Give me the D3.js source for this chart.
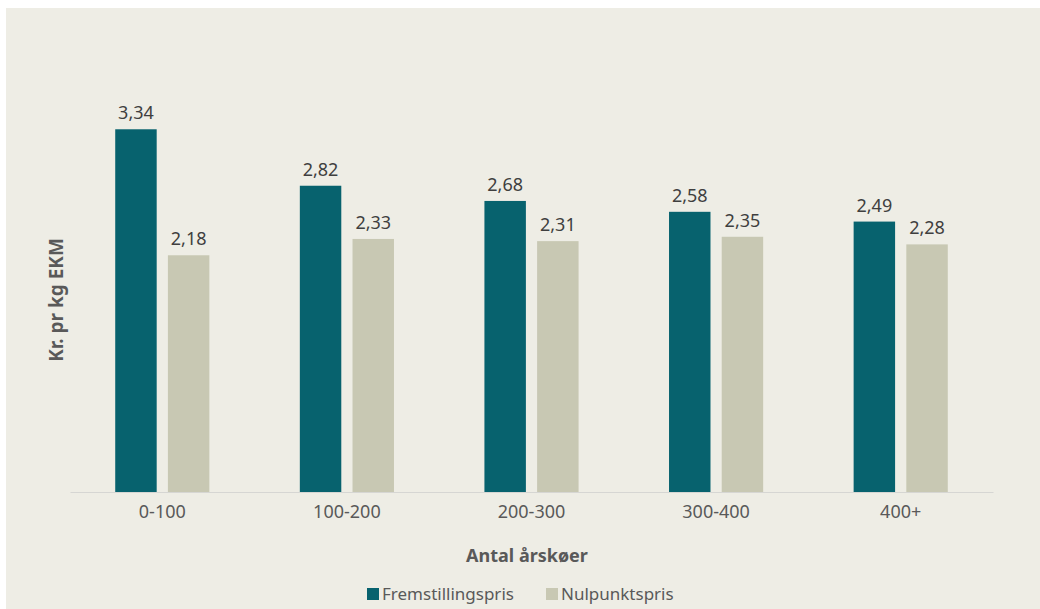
<!DOCTYPE html>
<html>
<head>
<meta charset="utf-8">
<script src="https://cdn.jsdelivr.net/npm/d3@7"></script>
<style>
  html, body { margin: 0; padding: 0; background: #ffffff; }
  svg { display: block; font-family: "Noto Sans", sans-serif; }
</style>
</head>
<body>
<svg id="chart" width="1040" height="609"></svg>
<script>
// Herd-size groups and the two price series (kr. per kg EKM)
const categories = ["0-100", "100-200", "200-300", "300-400", "400+"];
const seriesNames = ["Fremstillingspris", "Nulpunktspris"];
const fremstillingspris = [3.34, 2.82, 2.68, 2.58, 2.49];
const nulpunktspris = [2.18, 2.33, 2.31, 2.35, 2.28];
const seriesColors = ["#07626e", "#c8c8b3"];
const xTitle = "Antal årskøer";
const yTitle = "Kr. pr kg EKM";

const seriesValues = [fremstillingspris, nulpunktspris];
const rows = categories.map((c, i) => ({
  category: c,
  values: seriesNames.map((s, j) => ({ series: s, value: seriesValues[j][i], idx: j }))
}));

const svg = d3.select("#chart");
const W = 1040, H = 609;

// panel background
svg.append("rect").attr("x", 6).attr("y", 8).attr("width", W - 6).attr("height", H - 8)
  .attr("fill", "#eeede5");

const plot = { left: 70, right: 993, top: 57.6, bottom: 492 };

const x0 = d3.scaleBand().domain(categories).range([plot.left, plot.right]).padding(0);
const bw = x0.bandwidth();
const x1 = d3.scaleBand().domain(seriesNames)
  .range([bw * 0.245, bw * 0.755]).paddingInner(0.213).paddingOuter(0);
const y = d3.scaleLinear().domain([0, 4]).range([plot.bottom, plot.top]);

const fmt = v => d3.format(".2f")(v).replace(".", ",");

const groups = svg.append("g").selectAll("g").data(rows).join("g")
  .attr("transform", d => `translate(${x0(d.category)},0)`);

groups.selectAll("rect").data(d => d.values).join("rect")
  .attr("x", d => x1(d.series))
  .attr("y", d => y(d.value))
  .attr("width", x1.bandwidth())
  .attr("height", d => y(0) - y(d.value))
  .attr("fill", d => seriesColors[d.idx]);

groups.selectAll("text").data(d => d.values).join("text")
  .attr("x", d => x1(d.series) + x1.bandwidth() / 2)
  .attr("y", d => y(d.value) - 10)
  .attr("text-anchor", "middle")
  .attr("font-size", 18)
  .attr("fill", "#3f3f3f")
  .text(d => fmt(d.value));

// category axis
const xAxis = svg.append("g")
  .attr("transform", `translate(0,${plot.bottom})`)
  .call(d3.axisBottom(x0).tickSize(0).tickPadding(13));
xAxis.select(".domain").attr("stroke", "#d6d6d3").attr("stroke-width", 1.2);
xAxis.selectAll("text").attr("font-size", 18).attr("fill", "#595959")
  .attr("font-family", "Noto Sans, sans-serif");

// axis titles
svg.append("text")
  .attr("x", 527).attr("y", 562)
  .attr("text-anchor", "middle")
  .attr("font-size", 18).attr("font-weight", "bold").attr("fill", "#595959")
  .text(xTitle);

svg.append("text")
  .attr("transform", "translate(63,300) rotate(-90)")
  .attr("text-anchor", "middle")
  .attr("font-size", 19).attr("font-weight", "bold").attr("fill", "#595959")
  .text(yTitle);

// legend
const legendX = [367, 546];
const legend = svg.append("g").selectAll("g").data(seriesNames).join("g")
  .attr("transform", (d, i) => `translate(${legendX[i]},588)`);
legend.append("rect").attr("width", 12).attr("height", 12)
  .attr("fill", (d, i) => seriesColors[i]);
legend.append("text").attr("x", 15).attr("y", 11.5)
  .attr("font-size", 17).attr("fill", "#595959")
  .text(d => d);
</script>
</body>
</html>
